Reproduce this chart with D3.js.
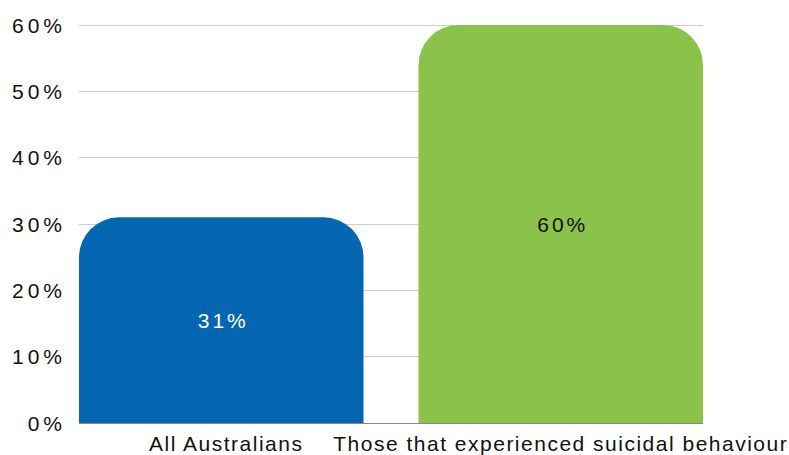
<!DOCTYPE html>
<html>
<head>
<meta charset="utf-8">
<script src="https://cdn.jsdelivr.net/npm/d3@7"></script>
<style>
  html, body { margin: 0; padding: 0; background: #fff; }
  svg { display: block; font-family: "Liberation Sans", Arial, Helvetica, sans-serif; }
</style>
</head>
<body>
<svg id="chart" width="789" height="455"></svg>
<script>
// Share of people in each group
const categories = ["All Australians", "Those that experienced suicidal behaviour"];
const values = [31, 60];
const barColors = ["#0466b1", "#8bc34a"];
const labelColors = ["#ffffff", "#111111"];
const yTicks = [0, 10, 20, 30, 40, 50, 60];

const W = 789, H = 455;
const margin = { top: 25, right: 86, bottom: 32, left: 79 };
const svg = d3.select("#chart");

const x = d3.scaleBand()
  .domain(categories)
  .range([margin.left, W - margin.right])
  .paddingInner(0.162)
  .paddingOuter(0);

const y = d3.scaleLinear()
  .domain([0, 60])
  .range([H - margin.bottom, margin.top]);

// Horizontal gridlines
svg.append("g")
  .selectAll("line")
  .data(yTicks.filter(d => d > 0))
  .join("line")
  .attr("x1", margin.left)
  .attr("x2", W - margin.right)
  .attr("y1", d => y(d))
  .attr("y2", d => y(d))
  .attr("stroke", "#cccccc")
  .attr("stroke-width", 1)
  .attr("shape-rendering", "crispEdges");

// Baseline
svg.append("line")
  .attr("x1", margin.left)
  .attr("x2", W - margin.right)
  .attr("y1", y(0))
  .attr("y2", y(0))
  .attr("stroke", "#888888")
  .attr("stroke-width", 1)
  .attr("shape-rendering", "crispEdges");

// Y axis tick labels
svg.append("g")
  .selectAll("text")
  .data(yTicks)
  .join("text")
  .attr("x", 66)
  .attr("y", d => y(d))
  .attr("dy", "0.36em")
  .attr("text-anchor", "end")
  .attr("font-size", 21)
  .attr("letter-spacing", 4)
  .attr("fill", "#111")
  .text(d => d + "%");

// Bars with rounded top corners
const r = 40;
function barPath(x0, w, yTop, yBase) {
  const rr = Math.min(r, w / 2, yBase - yTop);
  return `M${x0},${yBase}` +
    `L${x0},${yTop + rr}` +
    `A${rr},${rr} 0 0 1 ${x0 + rr},${yTop}` +
    `L${x0 + w - rr},${yTop}` +
    `A${rr},${rr} 0 0 1 ${x0 + w},${yTop + rr}` +
    `L${x0 + w},${yBase}Z`;
}

const data = categories.map((c, i) => ({ c, v: values[i], i }));

svg.append("g")
  .selectAll("path")
  .data(data)
  .join("path")
  .attr("d", d => barPath(x(d.c), x.bandwidth(), y(d.v), y(0)))
  .attr("fill", d => barColors[d.i]);

// Value labels inside the bars
svg.append("g")
  .selectAll("text")
  .data(data)
  .join("text")
  .attr("x", d => x(d.c) + x.bandwidth() / 2 + 2)
  .attr("y", d => (y(d.v) + y(0)) / 2)
  .attr("dy", "0.36em")
  .attr("text-anchor", "middle")
  .attr("font-size", 21)
  .attr("letter-spacing", 3)
  .attr("fill", d => labelColors[d.i])
  .text(d => d.v + "%");

// Category labels
svg.append("g")
  .selectAll("text")
  .data(categories)
  .join("text")
  .attr("x", (d, i) => x(d) + x.bandwidth() / 2 + (i === 0 ? 5 : 0))
  .attr("y", 451)
  .attr("text-anchor", "middle")
  .attr("font-size", 21)
  .attr("letter-spacing", 1.5)
  .attr("fill", "#111")
  .text(d => d);
</script>
</body>
</html>
